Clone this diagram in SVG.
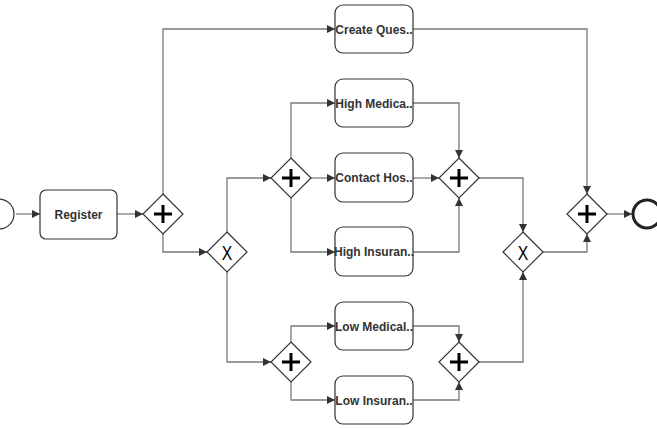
<svg xmlns="http://www.w3.org/2000/svg" width="657" height="428" viewBox="0 0 657 428">
<defs>
<marker id="ah" viewBox="0 0 10 10" refX="10" refY="5" markerWidth="8" markerHeight="8" markerUnits="userSpaceOnUse" orient="auto">
<path d="M0,0 L10,5 L0,10 Z" fill="#333"/>
</marker>
<g id="plus"><path d="M-9,0 H9 M0,-9 V9" stroke="#000" stroke-width="3" fill="none"/></g>
</defs>
<style>
.task rect{fill:#fff;stroke:#333;stroke-width:1.2}
.task text{font-family:"Liberation Sans",Arial,sans-serif;font-size:12px;font-weight:bold;fill:#333;text-anchor:middle}
.gw polygon{fill:#fff;stroke:#333;stroke-width:1.2}
.gw text{font-family:"Liberation Sans",Arial,sans-serif;font-size:21px;fill:#000;text-anchor:middle}
#edges path{fill:none;stroke:#7a7a7a;stroke-width:1.3;marker-end:url(#ah)}
</style>
<rect width="657" height="428" fill="#fff"/>
<g id="edges">
<path d="M16,214 H40"/>
<path d="M117,214 H143"/>
<path d="M163,194 V29 H335"/>
<path d="M163,234 V252 H207"/>
<path d="M227,232 V178 H271"/>
<path d="M227,272 V362 H271"/>
<path d="M291,158 V103 H335"/>
<path d="M311,178 H335"/>
<path d="M291,198 V252 H335"/>
<path d="M413,103 H459 V158"/>
<path d="M413,178 H439"/>
<path d="M413,252 H459 V198"/>
<path d="M479,178 H523 V232"/>
<path d="M291,342 V326 H335"/>
<path d="M291,382 V400 H335"/>
<path d="M413,326 H459 V342"/>
<path d="M413,400 H459 V382"/>
<path d="M479,362 H523 V272"/>
<path d="M413,29 H587 V194"/>
<path d="M543,252 H587 V234"/>
<path d="M607,214 H632"/>
</g>
<g id="start"><circle cx="-1" cy="214" r="15" fill="#fff" stroke="#333" stroke-width="1.2"/></g>
<g id="end"><circle cx="647" cy="214" r="14" fill="#fff" stroke="#222" stroke-width="3"/></g>
<g id="register" class="task"><rect x="40" y="190" width="77" height="49" rx="6"/><text x="78.5" y="218.5">Register</text></g>
<g id="createQues" class="task"><rect x="335" y="5" width="78" height="48" rx="8"/><text x="374" y="33.5">Create Ques..</text></g>
<g id="highMedical" class="task"><rect x="335" y="79" width="78" height="48" rx="8"/><text x="374" y="107.5">High Medica..</text></g>
<g id="contactHos" class="task"><rect x="335" y="153" width="78" height="49" rx="8"/><text x="374" y="182">Contact Hos..</text></g>
<g id="highInsuran" class="task"><rect x="335" y="227" width="78" height="49" rx="8"/><text x="374" y="256">High Insuran..</text></g>
<g id="lowMedical" class="task"><rect x="335" y="302" width="78" height="48" rx="8"/><text x="374" y="330.5">Low Medical..</text></g>
<g id="lowInsuran" class="task"><rect x="335" y="376" width="78" height="48" rx="8"/><text x="374" y="404.5">Low Insuran..</text></g>
<g id="gwSplit1" class="gw"><polygon points="163,194 183,214 163,234 143,214"/><use href="#plus" x="163" y="214"/></g>
<g id="gwXor1" class="gw"><polygon points="227,232 247,252 227,272 207,252"/><text x="0" y="0" transform="translate(227,259.5) scale(0.75,1)">X</text></g>
<g id="gwSplit2" class="gw"><polygon points="291,158 311,178 291,198 271,178"/><use href="#plus" x="291" y="178"/></g>
<g id="gwJoin2" class="gw"><polygon points="459,158 479,178 459,198 439,178"/><use href="#plus" x="459" y="178"/></g>
<g id="gwSplit3" class="gw"><polygon points="291,342 311,362 291,382 271,362"/><use href="#plus" x="291" y="362"/></g>
<g id="gwJoin3" class="gw"><polygon points="459,342 479,362 459,382 439,362"/><use href="#plus" x="459" y="362"/></g>
<g id="gwXor2" class="gw"><polygon points="523,232 543,252 523,272 503,252"/><text x="0" y="0" transform="translate(523,259.5) scale(0.75,1)">X</text></g>
<g id="gwJoin1" class="gw"><polygon points="587,194 607,214 587,234 567,214"/><use href="#plus" x="587" y="214"/></g>
</svg>
